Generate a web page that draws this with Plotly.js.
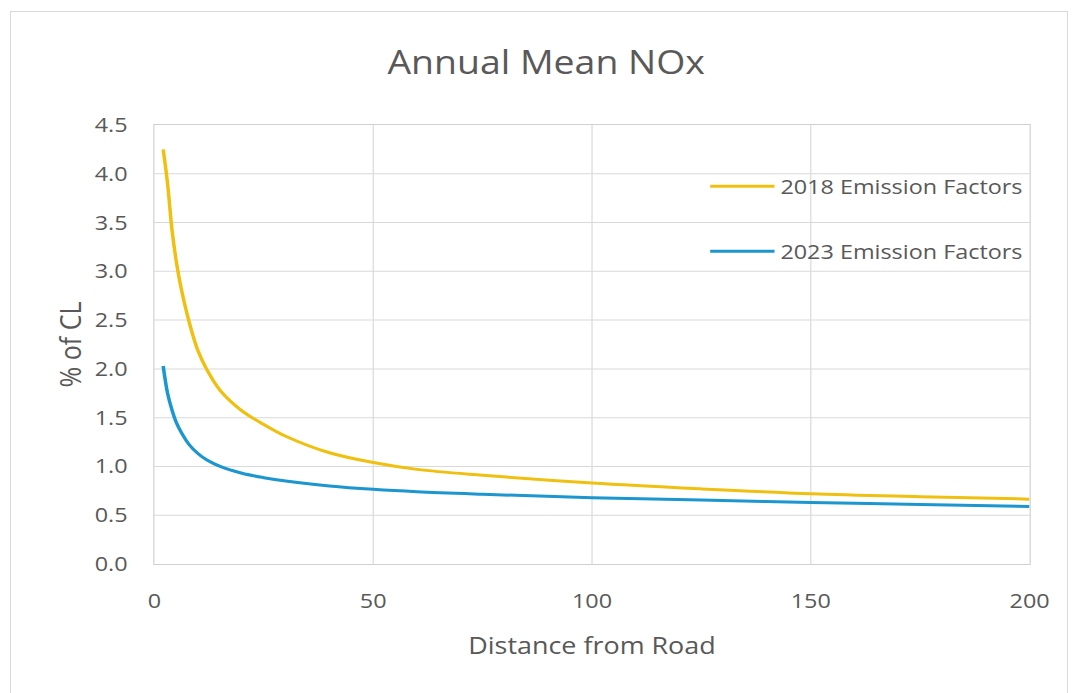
<!DOCTYPE html>
<html>
<head>
<meta charset="utf-8">
<script src="https://cdn.plot.ly/plotly-3.0.1.min.js"></script>
<style>
  html, body { margin: 0; padding: 0; background: #ffffff; overflow: hidden; }
  #frame { position: absolute; left: 10px; top: 11px; width: 1058px; height: 700px; border: 1px solid #d9d9d9; box-sizing: border-box; }
  /* the reference picture is stretched horizontally; reproduce that aspect */
  #chart { position: absolute; left: 0; top: 0; width: 919px; height: 693px; transform: scaleX(1.17); transform-origin: 0 0; }
  #chart .gridlayer path, #chart .xlines-above, #chart .ylines-above { shape-rendering: geometricPrecision !important; }
</style>
</head>
<body>
<div id="frame"></div>
<div id="chart"></div>
<script>
// Distance from road
const distance = [2, 3, 4, 5, 6, 8, 10, 12, 15, 20, 25, 30, 40, 50, 60, 75, 100, 125, 150, 175, 200];
// % of CL, 2018 emission factors
const ef2018 = [4.25, 3.90, 3.43, 3.10, 2.85, 2.47, 2.18, 1.99, 1.78, 1.57, 1.43, 1.31, 1.14, 1.04, 0.97, 0.91, 0.83, 0.77, 0.72, 0.69, 0.665];
// % of CL, 2023 emission factors
const ef2023 = [2.03, 1.75, 1.58, 1.45, 1.36, 1.22, 1.13, 1.065, 1.00, 0.93, 0.885, 0.85, 0.80, 0.765, 0.74, 0.715, 0.68, 0.655, 0.63, 0.61, 0.59];
const seriesNames = ['2018 Emission Factors', '2023 Emission Factors'];
const xTicks = [0, 50, 100, 150, 200];
const yTicks = [0, 0.5, 1, 1.5, 2, 2.5, 3, 3.5, 4, 4.5];

const font = 'Open Sans, Lato, sans-serif';
const grey = '#595959';

const traces = [
  { x: distance, y: ef2018, name: seriesNames[0], type: 'scatter', mode: 'lines',
    line: { color: '#F0C010', width: 3, shape: 'spline', smoothing: 1.0 }, legendgroup: 'a' },
  { x: distance, y: ef2023, name: seriesNames[1], type: 'scatter', mode: 'lines',
    line: { color: '#1B96CF', width: 3, shape: 'spline', smoothing: 1.0 }, legendgroup: 'b' }
];

const layout = {
  width: 919, height: 693,
  margin: { l: 132, r: 39, t: 125, b: 129 },
  paper_bgcolor: 'rgba(0,0,0,0)',
  plot_bgcolor: 'rgba(0,0,0,0)',
  font: { family: font, color: grey, size: 20 },
  title: { text: 'Annual Mean NOx', font: { family: font, size: 32, color: grey },
           x: 0.508, xanchor: 'center', y: 0.91, yanchor: 'middle' },
  xaxis: {
    range: [0, 200], tickvals: xTicks, ticktext: xTicks.map(String),
    showgrid: true, gridcolor: '#d9d9d9', gridwidth: 1,
    showline: true, linecolor: '#d0d0d0', linewidth: 1, mirror: true,
    zeroline: false,
    ticks: 'outside', ticklen: 19, tickcolor: 'rgba(0,0,0,0)',
    tickfont: { family: font, size: 20, color: grey },
    title: { text: 'Distance from Road', font: { family: font, size: 23, color: grey }, standoff: 24 }
  },
  yaxis: {
    range: [0, 4.5], tickvals: yTicks, ticktext: yTicks.map(v => v.toFixed(1)),
    showgrid: true, gridcolor: '#d9d9d9', gridwidth: 1,
    showline: true, linecolor: '#d0d0d0', linewidth: 1, mirror: true,
    zeroline: false,
    ticks: 'outside', ticklen: 18, tickcolor: 'rgba(0,0,0,0)',
    tickfont: { family: font, size: 20, color: grey },
    title: { text: '% of CL', font: { family: font, size: 25, color: grey }, standoff: 3 }
  },
  showlegend: true,
  legend: {
    x: 1.0, xanchor: 'right', y: 0.905, yanchor: 'top',
    bgcolor: 'rgba(255,255,255,0)', borderwidth: 0,
    font: { family: font, size: 20, color: grey },
    traceorder: 'grouped', tracegroupgap: 36, itemwidth: 55
  }
};

Plotly.newPlot('chart', traces, layout, { displayModeBar: false, staticPlot: true }).then(function () {
  document.querySelectorAll('#chart .gridlayer path, #chart .xlines-above, #chart .ylines-above').forEach(function (p) {
    p.style.shapeRendering = 'geometricPrecision';
  });
});
</script>
</body>
</html>
